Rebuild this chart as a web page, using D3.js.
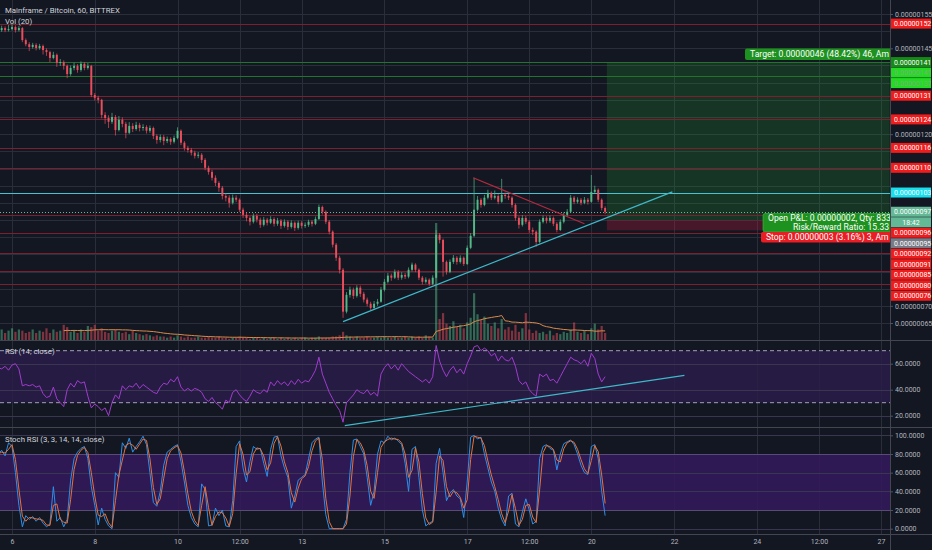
<!DOCTYPE html>
<html>
<head>
<meta charset="utf-8">
<script src="https://cdn.jsdelivr.net/npm/d3@7"></script>
<style>
    html, body { margin: 0; padding: 0; background: #131722; }
    svg { display: block; font-family: Roboto, "Open Sans", sans-serif; }
</style>
</head>
<body>
<svg id="chart" width="932" height="550"></svg>
<script>
// ---- data (prices in units of 1e-8 BTC, 2h bars from Aug 5 16:00 UTC) ----
var candleStart = Date.UTC(2018, 7, 5, 16),
    candleStep = 2 * 3600 * 1000,
    firstOpen = 150.6;

var closes = [
    150.3,150.9,150.3,150.6,151.2,150.3,150.9,147.4,146.2,145.4,146.0,145.1,
    145.7,144.5,143.9,142.2,143.1,140.8,141.0,139.9,137.5,139.3,139.9,138.7,
    140.5,139.3,139.9,131.4,130.6,130.0,125.6,124.7,123.6,125.0,121.2,124.2,
    123.0,120.4,122.4,121.5,122.7,121.8,122.1,121.0,121.8,119.5,118.3,119.2,
    118.0,118.6,117.8,118.9,121.0,117.5,116.0,115.4,114.6,113.7,114.0,112.5,
    110.2,109.0,107.3,105.8,104.4,102.0,101.5,100.0,101.5,100.9,98.0,96.5,
    95.6,94.5,96.2,95.1,93.6,95.1,94.2,95.3,93.9,94.8,93.3,94.5,
    93.0,94.2,92.7,94.2,93.3,93.6,94.5,93.9,95.3,98.8,97.4,94.5,
    91.6,87.8,84.0,80.5,68.3,73.2,74.7,72.9,75.3,73.5,71.8,70.6,
    69.4,70.6,71.2,74.7,77.0,78.8,78.2,79.9,78.2,79.0,78.5,80.5,
    82.0,80.5,78.2,77.0,77.6,76.4,78.2,90.7,89.2,82.8,79.9,82.8,
    84.0,82.8,84.0,82.2,86.9,90.4,98.0,100.9,99.4,101.5,102.9,101.5,
    102.0,100.3,102.3,102.0,101.5,99.4,95.6,93.6,95.6,94.5,92.1,91.6,
    88.6,94.5,95.6,94.8,95.6,93.9,92.1,94.5,96.5,97.4,101.5,100.3,
    100.9,100.0,100.9,100.3,103.2,103.8,100.9,98.5,97.4
];

var highs = [
    151.5,151.6,151.4,151.8,152.0,151.7,151.5,151.2,147.9,146.8,146.6,146.5,
    146.3,146.1,145.0,144.3,144.0,143.5,141.9,141.5,140.3,140.0,140.8,140.4,
    141.2,141.0,140.7,140.2,132.0,131.2,130.3,126.4,125.5,126.2,125.6,125.3,
    124.9,123.6,123.5,123.2,123.6,123.3,122.9,122.6,122.5,122.2,120.0,119.9,
    119.8,119.3,119.1,119.6,122.0,121.4,118.0,116.6,116.0,115.2,114.8,114.5,
    113.0,110.8,109.6,108.0,106.3,104.9,102.8,102.2,102.4,102.2,101.3,98.6,
    97.2,96.1,96.9,96.8,95.7,95.9,95.6,96.1,95.8,95.6,95.3,95.2,
    95.0,94.9,94.6,94.8,94.7,94.3,95.1,95.0,96.0,99.5,99.2,97.8,
    95.0,92.0,88.3,84.6,81.0,74.0,75.6,75.3,76.0,75.9,74.1,72.4,
    71.2,71.4,72.0,75.5,77.8,79.6,79.4,80.6,80.4,79.8,79.6,81.2,
    82.6,82.4,80.9,78.7,78.3,78.0,78.9,92.1,91.2,89.6,83.2,83.5,
    84.8,84.5,84.7,84.4,87.6,91.2,107.3,102.0,101.4,102.3,103.8,103.3,
    103.6,102.5,107.0,103.0,102.6,101.9,99.8,96.1,96.4,96.2,95.0,92.8,
    92.0,95.2,96.3,96.1,96.3,96.0,94.4,95.2,97.2,98.2,102.3,102.0,
    101.6,101.4,101.7,101.4,108.1,105.0,104.2,101.3,99.0
];

var lows = [
    149.6,149.8,149.7,149.9,150.2,149.6,149.9,146.8,145.6,144.2,144.9,144.4,
    144.6,143.2,142.8,141.0,141.8,139.6,139.9,138.8,136.3,137.0,138.6,137.9,
    138.2,138.6,138.8,130.8,129.8,129.0,124.6,123.0,121.8,123.0,119.6,120.8,
    122.0,118.8,120.0,120.6,121.0,120.8,121.0,120.2,120.4,118.6,117.2,117.6,
    116.8,117.4,116.9,117.3,118.5,116.8,115.2,114.6,113.8,112.9,113.0,111.6,
    109.5,108.2,106.5,104.9,103.2,101.0,100.4,98.6,99.5,100.2,97.3,95.6,
    94.6,93.4,94.0,94.3,92.7,93.1,93.4,93.8,93.1,93.3,92.4,92.8,
    92.1,92.5,91.8,92.2,92.5,92.7,93.0,93.1,93.5,95.0,96.6,93.8,
    90.8,87.0,83.1,79.4,66.5,67.8,72.4,72.0,72.4,72.6,71.0,69.8,
    68.8,69.0,70.0,70.9,74.2,76.5,77.3,77.8,77.5,77.6,77.8,78.0,
    80.0,79.8,77.5,76.2,76.5,75.8,76.0,78.0,88.2,78.5,79.1,79.5,
    82.2,82.0,82.3,81.6,81.9,86.5,90.0,97.5,98.6,99.0,101.0,100.8,
    101.0,99.6,100.0,101.2,100.8,98.6,94.8,92.5,93.1,93.8,91.3,90.6,
    87.2,88.2,94.0,94.0,94.2,93.2,91.4,91.8,94.0,96.0,97.0,99.6,
    99.8,99.3,99.6,99.5,100.0,102.6,100.2,97.8,96.7
];

var volumes = [
    7,9,6,8,10,7,9,8,6,7,9,6,
    8,7,10,6,9,7,8,13,11,7,8,6,
    9,7,12,11,13,8,10,7,6,8,9,7,
    6,7,5,8,6,5,4,5,4,3,4,3,
    3,2,3,2,4,3,2,3,2,2,3,2,
    2,3,2,2,3,2,2,1,2,2,3,2,
    2,1,2,2,1,2,1,2,2,1,2,1,
    2,1,2,1,2,2,1,2,2,3,2,2,
    2,3,3,4,7,4,3,2,3,2,2,3,
    2,2,3,2,3,2,2,3,2,2,3,2,
    3,2,3,2,4,3,2,100,18,23,14,12,
    16,11,13,10,15,19,40,22,17,20,14,12,
    15,10,18,9,11,8,13,7,10,23,9,6,
    8,6,7,5,8,4,6,5,7,6,9,15,
    7,6,8,5,10,14,9,12,6
];

var rsiValues = [
    57,56,58,55,59,60,56,43,44,43,44,42,
    43,37,34,35,42,33,30,27,40,45,42,47,
    45,46,35,26,29,27,24,26,20,30,36,33,
    43,40,43,42,45,41,44,42,40,38,37,42,
    45,44,48,46,50,42,39,41,39,41,40,38,
    33,31,34,30,28,25,32,30,38,40,36,33,
    31,35,40,38,37,40,38,46,43,47,44,46,
    43,47,44,48,45,47,46,50,55,65,52,45,
    38,33,28,24,15,30,33,36,40,38,37,40,
    36,38,35,52,57,60,56,59,55,60,57,54,
    52,50,48,46,48,45,50,74,62,55,50,55,
    58,53,56,52,60,66,73,74,70,72,70,66,
    68,62,66,63,62,65,58,47,44,46,40,37,
    35,52,50,52,47,48,45,50,55,60,65,63,
    62,60,63,58,68,64,52,46,50
];

var stochK = [
    80,84,78,92,88,60,25,2,14,10,13,8,
    12,6,2,5,45,8,12,2,10,52,75,82,
    86,88,75,45,25,4,22,10,3,0,60,55,
    92,86,97,82,88,93,99,90,60,28,24,40,
    68,82,85,88,90,72,50,25,12,5,2,48,
    42,3,4,22,14,20,3,2,30,88,94,65,
    50,72,88,85,86,70,56,85,98,99,78,65,
    55,22,35,52,55,58,75,92,96,98,50,15,
    0,0,0,0,0,10,60,95,96,88,80,55,
    25,40,80,94,92,99,95,97,94,90,70,40,
    85,88,55,20,3,6,8,70,86,60,30,38,
    42,35,32,12,50,98,100,96,98,80,65,50,
    40,22,10,3,35,38,5,2,18,32,20,5,
    8,75,88,90,86,84,63,80,91,93,95,90,
    80,68,60,58,88,90,75,40,14
];

// horizontal levels and drawings
var redLevels = [152.2, 131.2, 124.3, 116, 110.2, 96.4, 91.3, 85.4, 80.2, 76.4];
var greenLevels = [141, 137];
var cyanLevels = [103];
var currentPrice = 97.4, countdown = '18:42';
var entryPrice = 95, targetPrice = 141, stopPrice = 92;
var positionStart = '2018-08-20T09:00Z', positionEnd = '2018-08-27T05:00Z';
var trendUp = [['2018-08-14T00:00Z', 65.4], ['2018-08-21T23:00Z', 103.2]];
var trendDown = [['2018-08-17T03:30Z', 107.3], ['2018-08-19T20:00Z', 93.9]];
var rsiTrend = [['2018-08-14T01:00Z', 12.3], ['2018-08-22T06:00Z', 51]];

// position box texts, as far as they show before the price scale cuts them
var targetText = 'Target: 0.00000046 (48.42%) 46, Am',
    pnlText = 'Open P&L: 0.00000002, Qty: 833',
    ratioText = 'Risk/Reward Ratio: 15.33',
    stopText = 'Stop: 0.00000003 (3.16%) 3, Am';

// axis ticks
var timeTicks = ['2018-08-06', '2018-08-08', '2018-08-10', '2018-08-11T12:00Z', '2018-08-13', '2018-08-15',
    '2018-08-17', '2018-08-18T12:00Z', '2018-08-20', '2018-08-22', '2018-08-24', '2018-08-25T12:00Z', '2018-08-27'];
var timeLabels = ['6', '8', '10', '12:00', '13', '15', '17', '12:00', '20', '22', '24', '12:00', '27'];
var priceTicks = d3.range(65, 156, 5);
var rsiTicks = [20, 40, 60];
var stochTicks = [0, 20, 40, 60, 80, 100];

// ---- layout ----
var plotRight = 890,
    priceBottom = 340,
    rsiTop = 341, rsiBottom = 427,
    stochTop = 428, stochBottom = 534,
    upColor = '#53b987', downColor = '#eb4d5c',
    gridColor = '#2a2e3a', textColor = '#b2b5be';

var x = d3.scaleUtc()
    .domain([new Date('2018-08-06'), new Date('2018-08-27')])
    .range([12, 881]);
var y = d3.scaleLinear().domain([65, 155]).range([323, 14]);
var yVol = d3.scaleLinear().domain([0, 100]).range([priceBottom, 223]);
var yRsi = d3.scaleLinear().domain([20, 60]).range([415.7, 363.7]);
var yStoch = d3.scaleLinear().domain([0, 100]).range([528.7, 435.3]);

function fmtPrice(p) {
    return (p * 1e-8).toFixed(8);
}

var candles = (function () {
    var prev = firstOpen;
    return closes.map(function (c, i) {
        var o = prev;
        prev = c;
        return {
            t: new Date(candleStart + i * candleStep),
            o: o,
            c: c,
            h: Math.max(highs[i], o, c),
            l: Math.min(lows[i], o, c),
            v: volumes[i],
            rsi: rsiValues[i],
            k: stochK[i],
            // %D smoothing: at 2h bars the 3-hour average spans this bar and the previous one
            d: d3.mean(stochK.slice(Math.max(0, i - 1), i + 1))
        };
    });
})();

var svg = d3.select('#chart');
svg.append('rect').attr('width', 932).attr('height', 550).attr('fill', '#131722');

// nested svg viewports clip their content
function pane(y0, y1) {
    return svg.append('svg')
        .attr('x', 0).attr('y', y0)
        .attr('width', plotRight).attr('height', y1 - y0)
        .attr('viewBox', '0 ' + y0 + ' ' + plotRight + ' ' + (y1 - y0))
        .attr('overflow', 'hidden');
}

// ---- grid ----
var grid = svg.append('g').attr('stroke', gridColor).attr('stroke-width', 1);
grid.selectAll('line.v')
    .data(timeTicks)
    .enter().append('line')
    .attr('x1', function (d) { return Math.round(x(new Date(d))) + 0.5; })
    .attr('x2', function (d) { return Math.round(x(new Date(d))) + 0.5; })
    .attr('y1', 0).attr('y2', stochBottom);
grid.selectAll('line.hp')
    .data(priceTicks)
    .enter().append('line')
    .attr('x1', 0).attr('x2', plotRight)
    .attr('y1', function (d) { return Math.round(y(d)) + 0.5; })
    .attr('y2', function (d) { return Math.round(y(d)) + 0.5; });

// ---- indicator panes background ----
svg.append('rect')
    .attr('x', 0).attr('width', plotRight)
    .attr('y', yRsi(70)).attr('height', yRsi(30) - yRsi(70))
    .attr('fill', '#2a1c48').attr('opacity', 0.85);
svg.append('rect')
    .attr('x', 0).attr('width', plotRight)
    .attr('y', yStoch(80)).attr('height', yStoch(20) - yStoch(80))
    .attr('fill', '#33195a').attr('opacity', 0.9);

svg.append('g').selectAll('line')
    .data(rsiTicks)
    .enter().append('line')
    .attr('x1', 0).attr('x2', plotRight)
    .attr('y1', function (d) { return Math.round(yRsi(d)) + 0.5; })
    .attr('y2', function (d) { return Math.round(yRsi(d)) + 0.5; })
    .attr('stroke', '#3a3550');
svg.append('g').selectAll('line')
    .data(stochTicks)
    .enter().append('line')
    .attr('x1', 0).attr('x2', plotRight)
    .attr('y1', function (d) { return Math.round(yStoch(d)) + 0.5; })
    .attr('y2', function (d) { return Math.round(yStoch(d)) + 0.5; })
    .attr('stroke', function (d) { return (d == 20 || d == 80) ? '#5a4a78' : '#3a3550'; });

svg.append('g').selectAll('line')
    .data([70, 30])
    .enter().append('line')
    .attr('x1', 0).attr('x2', plotRight)
    .attr('y1', function (d) { return yRsi(d); })
    .attr('y2', function (d) { return yRsi(d); })
    .attr('stroke', '#a39fbd')
    .attr('stroke-dasharray', '4,3');

// ---- position (long) ----
var posX0 = x(new Date(positionStart)), posX1 = x(new Date(positionEnd));
var price = pane(0, priceBottom);
price.append('rect')
    .attr('x', posX0).attr('width', posX1 - posX0)
    .attr('y', y(targetPrice)).attr('height', y(entryPrice) - y(targetPrice))
    .attr('fill', 'rgba(38,150,50,0.24)');
price.append('rect')
    .attr('x', posX0).attr('width', posX1 - posX0)
    .attr('y', y(entryPrice)).attr('height', y(stopPrice) - y(entryPrice))
    .attr('fill', 'rgba(210,30,60,0.28)');

// ---- horizontal levels ----
function levelLines(levels, color, width, dash) {
    price.append('g').selectAll('line')
        .data(levels)
        .enter().append('line')
        .attr('x1', 0).attr('x2', plotRight)
        .attr('y1', function (d) { return Math.round(y(d)) + 0.5; })
        .attr('y2', function (d) { return Math.round(y(d)) + 0.5; })
        .attr('stroke', color)
        .attr('stroke-width', width)
        .attr('stroke-dasharray', dash || null);
}
levelLines(redLevels, '#7c1f2f', 1);
levelLines(greenLevels, '#23742a', 1);
levelLines(cyanLevels, '#46c3d3', 1);
levelLines([currentPrice], '#6cb894', 1, '1,2');

// ---- volume ----
var barStep = x(new Date(candleStart + candleStep)) - x(new Date(candleStart));
price.append('g').selectAll('rect')
    .data(candles)
    .enter().append('rect')
    .attr('x', function (d) { return x(d.t) - barStep * 0.32; })
    .attr('width', barStep * 0.64)
    .attr('y', function (d) { return yVol(d.v); })
    .attr('height', function (d) { return priceBottom - yVol(d.v); })
    .attr('fill', function (d) { return d.c >= d.o ? upColor : downColor; })
    .attr('opacity', 0.5);

var volMa = candles.map(function (d, i) {
    return i < 19 ? null : { t: d.t, v: d3.mean(volumes.slice(i - 19, i + 1)) };
}).filter(Boolean);
price.append('path')
    .datum(volMa)
    .attr('fill', 'none')
    .attr('stroke', '#d98a4a')
    .attr('stroke-width', 1)
    .attr('d', d3.line()
        .x(function (d) { return x(d.t); })
        .y(function (d) { return yVol(d.v); }));

// ---- candles ----
var candleG = price.append('g');
candleG.selectAll('line')
    .data(candles)
    .enter().append('line')
    .attr('x1', function (d) { return x(d.t); })
    .attr('x2', function (d) { return x(d.t); })
    .attr('y1', function (d) { return y(d.h); })
    .attr('y2', function (d) { return y(d.l); })
    .attr('stroke', function (d) { return d.c >= d.o ? upColor : downColor; })
    .attr('stroke-width', 0.7);
candleG.selectAll('rect')
    .data(candles)
    .enter().append('rect')
    .attr('x', function (d) { return x(d.t) - barStep * 0.28; })
    .attr('width', barStep * 0.56)
    .attr('y', function (d) { return y(Math.max(d.o, d.c)); })
    .attr('height', function (d) { return Math.max(1, Math.abs(y(d.o) - y(d.c))); })
    .attr('fill', function (d) { return d.c >= d.o ? upColor : downColor; });

// ---- trend lines ----
function trendLine(g, pts, scale, color) {
    g.append('line')
        .attr('x1', x(new Date(pts[0][0]))).attr('y1', scale(pts[0][1]))
        .attr('x2', x(new Date(pts[1][0]))).attr('y2', scale(pts[1][1]))
        .attr('stroke', color)
        .attr('stroke-width', 1.2);
}
trendLine(price, trendUp, y, '#3fb8c9');
trendLine(price, trendDown, y, '#b32a3e');

// ---- RSI ----
var rsiG = pane(rsiTop, rsiBottom);
rsiG.append('path')
    .datum(candles)
    .attr('fill', 'none')
    .attr('stroke', '#a03ccf')
    .attr('stroke-width', 1)
    .attr('d', d3.line()
        .x(function (d) { return x(d.t); })
        .y(function (d) { return yRsi(d.rsi); }));
trendLine(rsiG, rsiTrend, yRsi, '#3fb8c9');

// ---- Stoch RSI ----
var stochG = pane(stochTop, stochBottom);
stochG.append('path')
    .datum(candles)
    .attr('fill', 'none')
    .attr('stroke', '#2d8fe8')
    .attr('stroke-width', 1)
    .attr('d', d3.line()
        .x(function (d) { return x(d.t); })
        .y(function (d) { return yStoch(d.k); }));
stochG.append('path')
    .datum(candles)
    .attr('fill', 'none')
    .attr('stroke', '#e8713a')
    .attr('stroke-width', 1)
    .attr('d', d3.line()
        .x(function (d) { return x(d.t); })
        .y(function (d) { return yStoch(d.d); }));

// ---- pane separators ----
svg.append('g').attr('stroke', '#434651').selectAll('line')
    .data([priceBottom + 0.5, rsiBottom + 0.5, stochBottom + 0.5])
    .enter().append('line')
    .attr('x1', 0).attr('x2', 932)
    .attr('y1', function (d) { return d; })
    .attr('y2', function (d) { return d; });
svg.append('line')
    .attr('x1', plotRight + 0.5).attr('x2', plotRight + 0.5)
    .attr('y1', 0).attr('y2', 550)
    .attr('stroke', '#434651');

// ---- position labels (cut off by the price scale) ----
var labelsG = pane(0, priceBottom).append('g').attr('font-size', '8.6px').attr('fill', '#fff');
labelsG.append('rect')
    .attr('x', 745).attr('y', y(targetPrice) - 13.5).attr('width', 170).attr('height', 11.5)
    .attr('rx', 2).attr('fill', '#1e921f');
labelsG.append('text')
    .attr('x', 750).attr('y', y(targetPrice) - 4.8)
    .text(targetText);
labelsG.append('rect')
    .attr('x', 763).attr('y', y(entryPrice) - 6.5).attr('width', 170).attr('height', 18.5)
    .attr('rx', 2).attr('fill', '#1e921f').attr('stroke', '#3fbf45').attr('stroke-width', 0.6);
labelsG.append('text')
    .attr('x', 768).attr('y', y(entryPrice) + 1.4)
    .text(pnlText);
labelsG.append('text')
    .attr('x', 793).attr('y', y(entryPrice) + 10)
    .text(ratioText);
labelsG.append('rect')
    .attr('x', 761).attr('y', y(entryPrice) + 12).attr('width', 170).attr('height', 10.5)
    .attr('rx', 2).attr('fill', '#ea1d24');
labelsG.append('text')
    .attr('x', 766).attr('y', y(entryPrice) + 20.3)
    .text(stopText);

// ---- price scale labels (stacked like the platform does) ----
var priceLabels = [];
redLevels.forEach(function (p) { priceLabels.push({ p: p, fill: '#f01b1b', color: '#fff' }); });
priceLabels.push({ p: greenLevels[0], fill: '#168a16', color: '#fff' });
priceLabels.push({ p: targetPrice, fill: '#22dc22', color: '#7fae7f' });
priceLabels.push({ p: greenLevels[1], fill: '#22dc22', color: '#7fae7f' });
priceLabels.push({ p: cyanLevels[0], fill: '#18dfee', color: '#fff' });
priceLabels.push({ p: currentPrice, fill: '#63b996', color: '#fff' });
priceLabels.push({ p: currentPrice, fill: '#63b996', color: '#fff', text: countdown, after: true });
priceLabels.push({ p: entryPrice, fill: '#787b86', color: '#fff' });
priceLabels.push({ p: stopPrice, fill: '#f01b1b', color: '#fff' });

priceLabels.forEach(function (d, i) { d.y = y(d.p) + (d.after ? 0.01 : 0); d.i = i; });
priceLabels.sort(function (a, b) { return (a.y - b.y) || (a.i - b.i); });
var lastY = -Infinity;
priceLabels.forEach(function (d) {
    d.y = Math.max(d.y, lastY + 10.5);
    lastY = d.y;
});

// tick labels hidden underneath a coloured label are not drawn
var visibleTicks = priceTicks.filter(function (t) {
    return priceLabels.every(function (d) { return Math.abs(d.y - y(t)) > 9; });
});

// ---- axes ----
function styleAxis(g) {
    g.select('.domain').remove();
    g.selectAll('line').attr('stroke', '#50535e');
    g.selectAll('text').attr('fill', textColor).attr('font-size', '7px')
        .attr('font-family', 'Roboto, "Open Sans", sans-serif');
}
svg.append('g')
    .attr('transform', 'translate(' + plotRight + ',0)')
    .call(d3.axisRight(y).tickValues(visibleTicks).tickSize(3).tickPadding(2).tickFormat(fmtPrice))
    .call(styleAxis);
svg.append('g')
    .attr('transform', 'translate(' + plotRight + ',0)')
    .call(d3.axisRight(yRsi).tickValues(rsiTicks).tickSize(3).tickPadding(2)
        .tickFormat(function (d) { return d.toFixed(4); }))
    .call(styleAxis);
svg.append('g')
    .attr('transform', 'translate(' + plotRight + ',0)')
    .call(d3.axisRight(yStoch).tickValues(stochTicks).tickSize(3).tickPadding(2)
        .tickFormat(function (d) { return d.toFixed(4); }))
    .call(styleAxis);
svg.append('g')
    .attr('transform', 'translate(0,' + stochBottom + ')')
    .call(d3.axisBottom(x).tickValues(timeTicks.map(function (d) { return new Date(d); }))
        .tickSize(0).tickPadding(5)
        .tickFormat(function (d, i) { return timeLabels[i]; }))
    .call(styleAxis);

var pl = svg.append('g').selectAll('g')
    .data(priceLabels)
    .enter().append('g')
    .attr('transform', function (d) { return 'translate(' + (plotRight + 1) + ',' + d.y + ')'; });
pl.append('rect')
    .attr('x', 0).attr('y', -5).attr('width', 40).attr('height', 10)
    .attr('fill', function (d) { return d.fill; });
pl.append('text')
    .attr('x', function (d) { return d.text ? 20 : 3; })
    .attr('y', 2.5)
    .attr('text-anchor', function (d) { return d.text ? 'middle' : 'start'; })
    .attr('font-size', '7px')
    .attr('fill', function (d) { return d.color; })
    .text(function (d) { return d.text || fmtPrice(d.p); });

// ---- titles ----
var titles = svg.append('g').attr('fill', '#d1d4dc').attr('font-size', '7.8px');
titles.append('text').attr('x', 5).attr('y', 13).text('Mainframe / Bitcoin, 60, BITTREX');
titles.append('text').attr('x', 5).attr('y', 23.5).text('Vol (20)');
titles.append('text').attr('x', 5).attr('y', 353.5).text('RSI (14, close)');
titles.append('text').attr('x', 5).attr('y', 441.5).text('Stoch RSI (3, 3, 14, 14, close)');
</script>
</body>
</html>
